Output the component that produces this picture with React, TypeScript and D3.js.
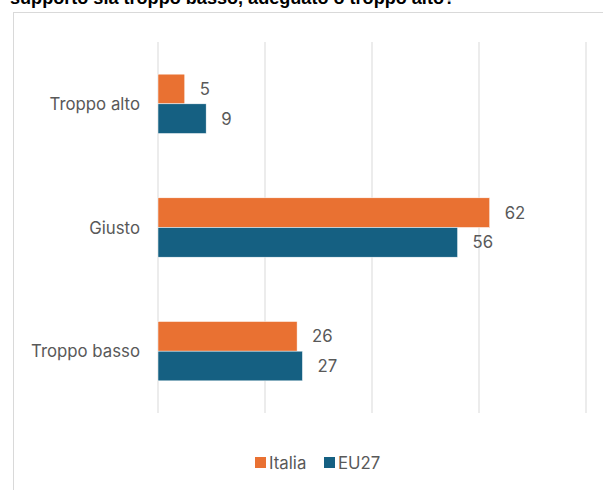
import React from "react";
import * as d3 from "d3";

const categories = ["Troppo alto", "Giusto", "Troppo basso"];
const seriesNames = ["Italia", "EU27"];
const italia = [5, 62, 26];
const eu27 = [9, 56, 27];
const xTicks = [0, 20, 40, 60, 80];
const colors = ["#E97132", "#156082"];
const title = "supporto sia troppo basso, adeguato o troppo alto?";

export default function App() {
  const W = 603, H = 490;
  const x = d3.scaleLinear().domain([0, 80]).range([158, 586]);
  const y = d3.scaleBand().domain(categories).range([42, 413]).paddingInner(0.52).paddingOuter(0.26);
  const sub = d3.scaleBand().domain(seriesNames).range([0, y.bandwidth()]);
  const series = [italia, eu27];
  const font = "Inter, 'Open Sans', sans-serif";
  const textColor = "#595959";
  const fs = 16.8;
  return (
    <svg width={W} height={H} style={{ position: "absolute", left: 0, top: 0 }} fontFamily={font}>
      <rect x={0} y={0} width={W} height={H} fill="#fff" />
      <text x={10} y={4} fontSize={18} fontWeight="bold" fill="#000" fontFamily="'Liberation Sans', Arial, sans-serif" textLength={445} lengthAdjust="spacingAndGlyphs">{title}</text>
      <line x1={13} x2={W} y1={12.5} y2={12.5} stroke="#d9d9d9" />
      <line x1={13.5} x2={13.5} y1={12} y2={H} stroke="#d9d9d9" />
      {xTicks.map((t) => (
        <line key={t} x1={x(t)} x2={x(t)} y1={42} y2={413} stroke="#d9d9d9" strokeWidth={1} />
      ))}
      {categories.map((c, i) => (
        <g key={c}>
          <text x={140} y={(y(c) as number) + y.bandwidth() / 2} textAnchor="end" dominantBaseline="central" fontSize={fs} fill={textColor}>{c}</text>
          {series.map((s, j) => {
            const yy = (y(c) as number) + (sub(seriesNames[j]) as number);
            return (
              <g key={j}>
                <rect x={x(0)} y={yy} width={x(s[i]) - x(0)} height={sub.bandwidth()} fill={colors[j]} stroke="#fff" strokeWidth={0.5} />
                <text x={x(s[i]) + 15} y={yy + sub.bandwidth() / 2} dominantBaseline="central" fontSize={fs} fill={textColor}>{s[i]}</text>
              </g>
            );
          })}
        </g>
      ))}
      <g>
        <rect x={255} y={457} width={11} height={11} fill={colors[0]} />
        <text x={269} y={463} dominantBaseline="central" fontSize={fs} fill={textColor}>{seriesNames[0]}</text>
        <rect x={324} y={457} width={11} height={11} fill={colors[1]} />
        <text x={338} y={463} dominantBaseline="central" fontSize={fs} fill={textColor}>{seriesNames[1]}</text>
      </g>
    </svg>
  );
}
